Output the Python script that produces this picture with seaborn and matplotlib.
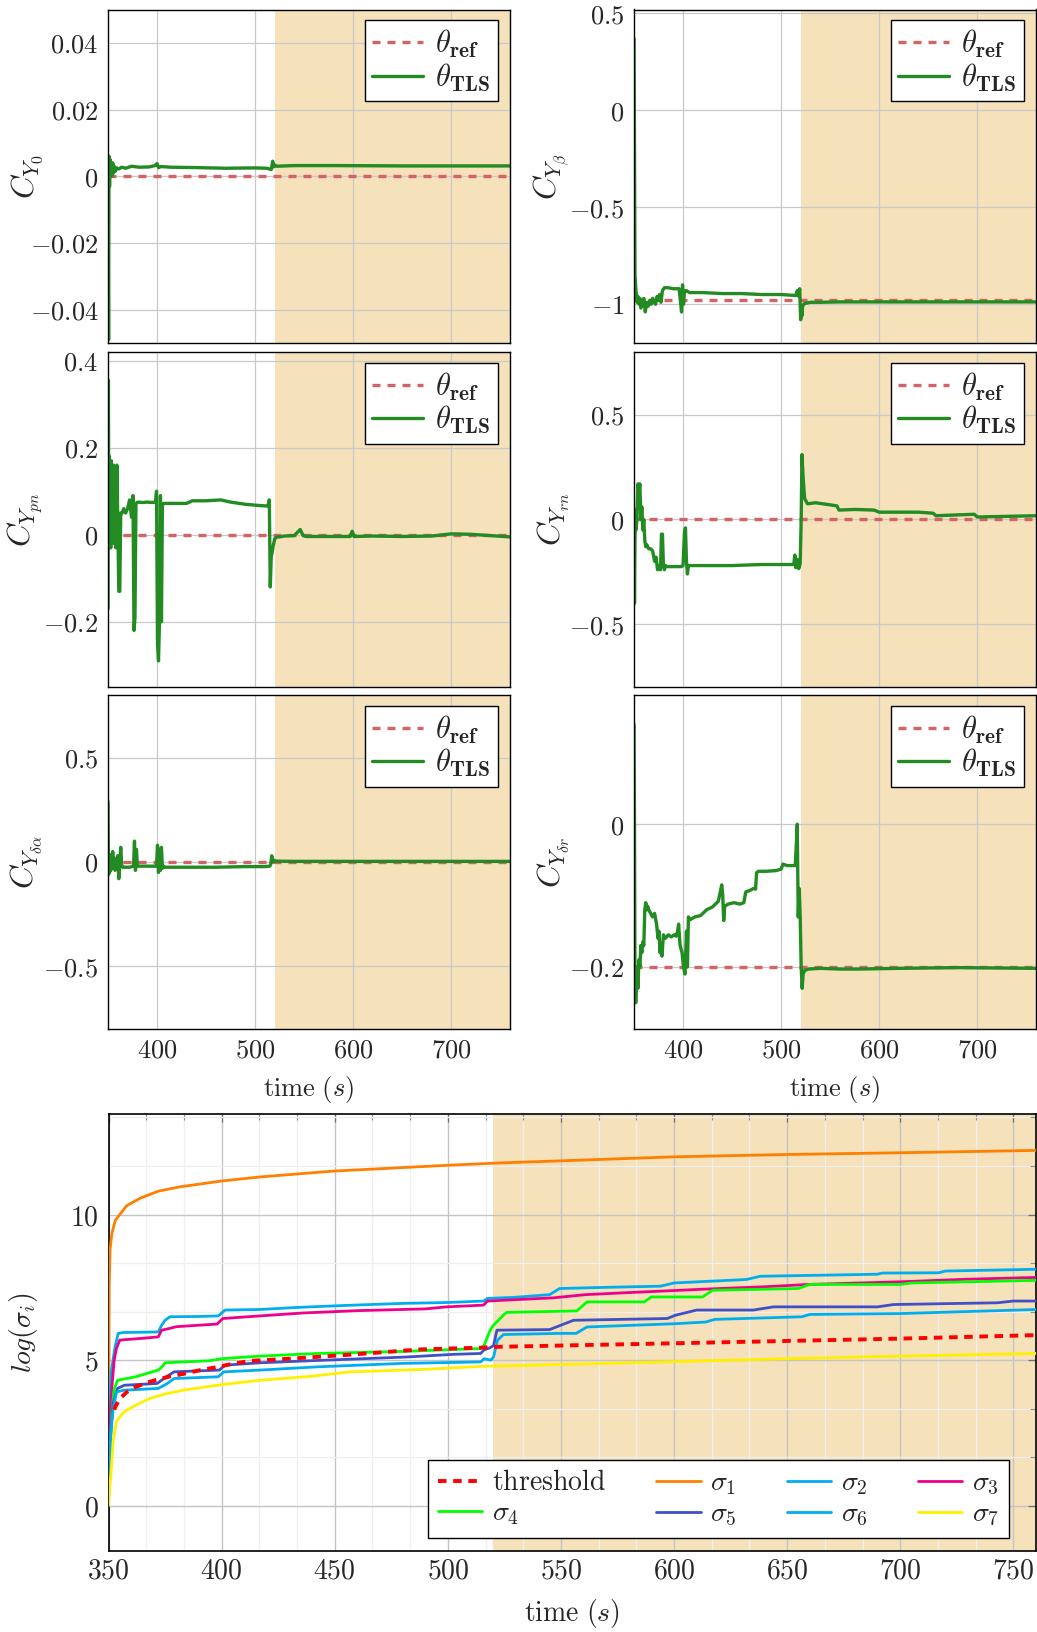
import matplotlib
matplotlib.use("Agg")
import matplotlib.pyplot as plt
import seaborn as sns
from matplotlib.ticker import FixedLocator, FixedFormatter, MultipleLocator

# ------------------------------------------------------------------
# Parameter estimates (theta_TLS) versus time, one series per coefficient
# ------------------------------------------------------------------
t_y0 = [350.0, 350.6, 351.0, 351.6, 352.2, 352.8, 353.4, 354.0, 354.8, 355.6,
        356.4, 357.5, 359.0, 361.0, 364.0, 368.0, 374.0, 382.0, 392.0, 398.0,
        400.0, 401.5, 404.0, 415.0, 440.0, 470.0, 500.0, 512.0, 516.5, 518.0,
        519.0, 520.0, 522.0, 540.0, 580.0, 650.0, 760.0]
v_y0 = [0.004, -0.049, 0.006, -0.003, 0.005, 0.001, 0.004, 0.0, 0.004, 0.001,
        0.003, 0.0015, 0.0025, 0.0022, 0.0027, 0.0024, 0.003, 0.0027, 0.0028, 0.0032,
        0.0038, 0.0026, 0.0029, 0.0027, 0.0026, 0.0024, 0.0025, 0.0024, 0.002, 0.0045,
        0.0028, 0.0034, 0.003, 0.0032, 0.0032, 0.0031, 0.0031]

t_beta = [350.0, 350.5, 351.0, 352.0, 353.0, 354.0, 355.0, 356.0, 357.0, 358.0,
          359.0, 360.0, 361.5, 363.0, 364.5, 366.0, 367.5, 369.0, 370.5, 372.0,
          373.5, 375.0, 376.0, 377.5, 379.0, 381.0, 385.0, 390.0, 396.0, 397.5,
          398.5, 399.5, 400.5, 401.5, 402.5, 403.5, 405.0, 406.5, 408.0, 420.0,
          440.0, 460.0, 480.0, 500.0, 515.0, 516.5, 518.0, 519.0, 520.0, 520.6,
          521.2, 522.0, 523.0, 525.0, 530.0, 540.0, 560.0, 600.0, 650.0, 700.0,
          760.0]
v_beta = [0.37, -0.20, -0.85, -0.93, -0.99, -0.96, -1.00, -0.97, -1.02, -0.98,
          -1.00, -0.97, -1.04, -0.99, -1.01, -0.98, -1.00, -0.97, -0.99, -1.00,
          -0.96, -0.98, -0.95, -0.99, -0.93, -0.915, -0.915, -0.92, -0.92, -0.99,
          -1.04, -0.90, -1.00, -0.93, -0.935, -0.93, -0.935, -0.94, -0.94, -0.94,
          -0.945, -0.945, -0.95, -0.95, -0.955, -0.93, -0.96, -0.92, -1.08, -1.02,
          -1.06, -1.01, -1.00, -0.995, -0.99, -0.99, -0.988, -0.988, -0.988, -0.988,
          -0.988]

t_pn = [350.0, 350.4, 350.8, 351.3, 351.8, 352.3, 352.8, 353.3, 353.8, 354.4,
        355.0, 355.6, 356.2, 357.0, 358.0, 359.0, 360.0, 361.0, 362.0, 363.0,
        364.5, 366.0, 368.0, 370.0, 372.0, 374.0, 375.5, 376.5, 377.5, 378.5,
        379.5, 381.0, 385.0, 390.0, 395.0, 398.5, 399.5, 400.5, 401.5, 402.5,
        403.5, 404.5, 405.5, 407.0, 415.0, 430.0, 436.0, 450.0, 465.0, 475.0,
        490.0, 505.0, 513.0, 514.5, 515.5, 516.5, 517.5, 518.5, 520.0, 522.0,
        525.0, 530.0, 540.0, 546.0, 549.0, 552.0, 570.0, 597.0, 599.0, 601.0,
        620.0, 650.0, 680.0, 700.0, 720.0, 760.0]
v_pn = [-0.17, 0.355, -0.03, 0.18, 0.0, 0.12, -0.03, 0.17, 0.05, 0.15,
        -0.02, 0.16, 0.04, 0.12, -0.03, 0.16, 0.03, -0.13, -0.13, 0.05,
        0.05, 0.06, 0.05, 0.06, 0.08, 0.04, 0.09, -0.22, -0.19, 0.07,
        0.074, 0.075, 0.074, 0.075, 0.074, 0.075, 0.10, -0.25, -0.29, -0.20,
        0.09, -0.20, 0.07, 0.072, 0.072, 0.072, 0.078, 0.078, 0.08, 0.075,
        0.07, 0.067, 0.066, 0.08, -0.12, -0.05, -0.04, -0.025, -0.01, -0.005,
        -0.005, -0.003, -0.002, 0.012, -0.002, -0.004, -0.004, -0.004, 0.008, -0.004,
        -0.003, -0.004, -0.003, 0.002, 0.001, -0.005]

t_rn = [350.0, 350.5, 351.0, 351.5, 352.0, 353.0, 354.0, 355.0, 356.0, 357.0,
        358.0, 359.0, 360.0, 361.0, 362.0, 363.0, 365.0, 367.0, 369.0, 371.0,
        372.5, 374.0, 375.5, 377.0, 378.0, 379.0, 380.0, 381.0, 382.0, 383.5,
        386.0, 392.0, 398.0, 400.0, 401.5, 402.5, 403.5, 404.5, 405.5, 407.0,
        420.0, 450.0, 480.0, 500.0, 513.0, 514.0, 515.0, 516.5, 518.0, 519.5,
        520.5, 521.3, 522.5, 524.0, 527.0, 535.0, 550.0, 557.0, 559.0, 575.0,
        595.0, 600.0, 640.0, 655.0, 658.0, 680.0, 697.0, 700.0, 730.0, 760.0]
v_rn = [0.05, -0.40, -0.10, 0.04, -0.05, 0.0, 0.17, 0.14, 0.17, 0.0,
        0.06, -0.05, 0.0, -0.10, -0.13, -0.12, -0.14, -0.14, -0.15, -0.20,
        -0.18, -0.24, -0.22, -0.24, -0.07, -0.07, -0.22, -0.24, -0.22, -0.225,
        -0.225, -0.225, -0.225, -0.22, -0.06, -0.04, -0.20, -0.26, -0.22, -0.22,
        -0.22, -0.22, -0.215, -0.215, -0.215, -0.17, -0.23, -0.19, -0.235, -0.21,
        0.0, 0.31, 0.20, 0.10, 0.075, 0.08, 0.07, 0.065, 0.045, 0.048,
        0.045, 0.035, 0.035, 0.03, 0.018, 0.022, 0.025, 0.012, 0.015, 0.018]

t_da = [350.0, 350.5, 351.0, 351.6, 352.2, 352.8, 353.4, 354.0, 354.8, 355.6,
        356.4, 357.2, 358.0, 359.0, 360.0, 361.0, 362.0, 363.0, 364.0, 365.0,
        366.0, 368.0, 372.0, 376.0, 377.0, 378.0, 379.0, 380.0, 385.0, 395.0,
        399.5, 400.5, 401.5, 402.5, 403.5, 404.5, 405.5, 406.5, 408.0, 430.0,
        460.0, 490.0, 510.0, 515.0, 516.0, 517.0, 518.0, 519.0, 520.0, 522.0,
        540.0, 600.0, 700.0, 760.0]
v_da = [0.29, -0.06, 0.04, -0.05, 0.02, -0.04, 0.03, -0.03, 0.05, -0.02,
        0.02, -0.04, 0.01, -0.02, 0.03, -0.08, 0.0, 0.07, -0.02, -0.025,
        -0.025, -0.025, -0.025, -0.02, 0.10, -0.04, 0.06, -0.02, -0.02, -0.02,
        -0.02, 0.08, -0.05, 0.06, -0.04, 0.07, -0.03, -0.02, -0.025, -0.025,
        -0.025, -0.022, -0.022, -0.02, -0.01, 0.03, 0.0, 0.01, 0.004, 0.004,
        0.003, 0.003, 0.003, 0.003]

t_dr = [350.0, 350.5, 351.0, 351.5, 352.0, 353.0, 354.0, 355.0, 356.0, 357.0,
        358.0, 359.0, 360.0, 361.0, 362.0, 363.0, 364.0, 365.0, 367.0, 369.0,
        371.0, 373.0, 374.5, 375.5, 376.5, 377.5, 378.5, 380.0, 382.0, 385.0,
        388.0, 391.0, 393.0, 394.5, 395.5, 397.0, 399.0, 400.5, 402.0, 403.5,
        404.5, 405.5, 407.0, 412.0, 418.0, 424.0, 430.0, 436.0, 439.5, 440.5,
        441.5, 442.5, 446.0, 452.0, 458.0, 462.0, 464.0, 468.0, 472.0, 474.0,
        475.0, 477.0, 485.0, 495.0, 500.0, 502.0, 506.0, 512.0, 514.5, 515.5,
        516.5, 517.5, 518.5, 519.5, 520.5, 521.5, 522.5, 524.0, 528.0, 540.0,
        560.0, 580.0, 620.0, 680.0, 760.0]
v_dr = [0.14, 0.0, -0.22, -0.25, -0.25, -0.20, -0.23, -0.19, -0.20, -0.17,
        -0.18, -0.165, -0.17, -0.12, -0.11, -0.12, -0.115, -0.12, -0.125, -0.13,
        -0.125, -0.14, -0.16, -0.15, -0.18, -0.17, -0.185, -0.155, -0.16, -0.155,
        -0.158, -0.155, -0.157, -0.15, -0.14, -0.17, -0.18, -0.20, -0.21, -0.15,
        -0.20, -0.13, -0.134, -0.13, -0.128, -0.12, -0.116, -0.108, -0.085, -0.10,
        -0.135, -0.115, -0.112, -0.11, -0.112, -0.11, -0.095, -0.093, -0.09, -0.091,
        -0.068, -0.066, -0.066, -0.065, -0.063, -0.056, -0.058, -0.058, -0.058, -0.03,
        0.0, -0.13, -0.09, -0.13, -0.20, -0.23, -0.21, -0.205, -0.203, -0.202,
        -0.203, -0.203, -0.202, -0.201, -0.202]

# Reference values theta_ref
ref_values = [0.0, -0.98, 0.0, 0.0, 0.0, -0.2]

# ------------------------------------------------------------------
# Singular values log(sigma_i) and detection threshold
# ------------------------------------------------------------------
t_thr = [352.5, 353.0, 355.0, 358.0, 362.0, 366.0, 370.5, 377.0, 383.8, 390.0,
         398.5, 405.0, 413.2, 430.0, 457.0, 488.0, 515.0, 523.0, 600.0, 650.0,
         700.0, 760.0]
v_thr = [3.3, 3.4, 3.68, 3.9, 4.08, 4.2, 4.31, 4.44, 4.54, 4.65,
         4.77, 4.88, 4.98, 5.05, 5.19, 5.37, 5.43, 5.46, 5.58, 5.66,
         5.74, 5.86]

t_s1 = [350.0, 350.3, 350.7, 351.5, 353.0, 355.0, 358.0, 364.0, 372.0, 381.6,
        400.0, 417.0, 449.5, 500.0, 523.0, 560.0, 600.0, 650.0, 700.0, 760.0]
v_s1 = [1.0, 7.5, 8.8, 9.35, 9.8, 10.0, 10.3, 10.56, 10.8, 10.95,
        11.15, 11.29, 11.49, 11.69, 11.77, 11.87, 11.98, 12.06, 12.12, 12.2]

t_s2 = [350.0, 350.5, 351.2, 352.0, 352.9, 354.3, 356.6, 365.0, 372.0, 373.5,
        375.0, 377.2, 390.0, 398.6, 401.5, 417.0, 433.3, 455.0, 480.5, 500.0,
        515.8, 517.5, 530.0, 545.0, 549.4, 570.0, 594.0, 600.0, 632.0, 638.0,
        660.0, 689.8, 692.0, 717.0, 720.0, 760.0]
v_s2 = [2.0, 3.5, 4.6, 5.0, 5.46, 5.92, 5.95, 5.96, 5.97, 6.2,
        6.37, 6.49, 6.5, 6.52, 6.72, 6.74, 6.81, 6.88, 6.95, 6.98,
        7.03, 7.12, 7.16, 7.25, 7.46, 7.5, 7.54, 7.65, 7.77, 7.88,
        7.91, 7.95, 7.99, 8.0, 8.06, 8.12]

t_s3 = [350.0, 350.6, 351.5, 352.5, 353.5, 355.0, 365.0, 372.0, 373.5, 377.0,
        380.0, 398.0, 400.5, 417.0, 436.0, 460.0, 490.0, 499.5, 515.8, 517.5,
        530.5, 546.7, 561.0, 580.0, 614.0, 640.0, 659.7, 700.0, 730.0, 760.0]
v_s3 = [1.5, 3.0, 4.08, 5.0, 5.4, 5.69, 5.75, 5.8, 6.03, 6.09,
        6.15, 6.24, 6.43, 6.52, 6.62, 6.7, 6.76, 6.83, 6.89, 7.03,
        7.08, 7.14, 7.25, 7.32, 7.44, 7.52, 7.6, 7.69, 7.78, 7.84]

t_s4 = [350.0, 350.8, 351.5, 352.5, 354.0, 362.0, 372.0, 374.0, 375.0, 394.5,
        400.0, 417.0, 442.0, 480.0, 514.5, 516.0, 518.7, 520.2, 524.6, 526.0,
        557.0, 561.5, 586.8, 590.0, 612.6, 617.0, 655.0, 660.0, 700.0, 705.0,
        760.0]
v_s4 = [0.5, 2.0, 3.28, 4.0, 4.31, 4.43, 4.66, 4.8, 4.91, 4.98,
        5.05, 5.14, 5.23, 5.3, 5.4, 5.5, 6.03, 6.2, 6.55, 6.64,
        6.69, 7.0, 7.0, 7.17, 7.17, 7.4, 7.46, 7.6, 7.6, 7.65,
        7.74]

t_s5 = [350.0, 351.0, 352.0, 354.0, 357.0, 371.5, 375.0, 379.0, 399.0, 401.5,
        417.0, 439.0, 482.0, 502.5, 514.5, 516.0, 518.7, 520.2, 521.7, 545.0,
        555.6, 597.0, 600.5, 610.0, 635.0, 644.0, 690.0, 697.0, 743.0, 750.0,
        760.0]
v_s5 = [0.5, 2.5, 3.52, 4.03, 4.14, 4.2, 4.4, 4.6, 4.66, 4.83,
        4.91, 4.98, 5.11, 5.2, 5.23, 5.35, 5.43, 5.5, 6.03, 6.05,
        6.37, 6.43, 6.54, 6.72, 6.72, 6.83, 6.83, 6.91, 6.97, 7.03,
        7.03]

t_s6 = [350.0, 351.0, 352.0, 353.5, 357.0, 372.0, 376.0, 379.0, 398.5, 401.0,
        417.0, 442.0, 480.0, 514.5, 516.0, 519.0, 520.2, 522.0, 524.6, 549.4,
        556.7, 561.5, 600.0, 614.0, 618.0, 656.5, 660.0, 700.0, 760.0]
v_s6 = [0.3, 2.5, 3.28, 3.91, 3.97, 4.03, 4.2, 4.37, 4.43, 4.6,
        4.66, 4.77, 4.89, 4.94, 5.05, 5.0, 5.11, 5.69, 5.88, 5.92,
        5.92, 6.14, 6.25, 6.31, 6.4, 6.49, 6.57, 6.6, 6.74]

t_s7 = [350.0, 350.5, 351.2, 352.0, 353.5, 356.0, 358.0, 362.0, 368.0, 375.0,
        383.0, 400.0, 417.0, 440.0, 457.0, 488.0, 516.0, 523.0, 600.0, 650.0,
        700.0, 760.0]
v_s7 = [0.0, 0.6, 1.2, 2.2, 2.9, 3.15, 3.28, 3.45, 3.68, 3.84,
        3.97, 4.16, 4.31, 4.45, 4.6, 4.68, 4.79, 4.8, 4.95, 5.05,
        5.14, 5.23]

# Tick values and their labels
xt_top = [400, 500, 600, 700]
xt_top_lbl = ["$400$", "$500$", "$600$", "$700$"]
yt_y0 = [-0.04, -0.02, 0.0, 0.02, 0.04]
yt_y0_lbl = ["$-0.04$", "$-0.02$", "$0$", "$0.02$", "$0.04$"]
yt_beta = [-1.0, -0.5, 0.0, 0.5]
yt_beta_lbl = ["$-1$", "$-0.5$", "$0$", "$0.5$"]
yt_pn = [-0.2, 0.0, 0.2, 0.4]
yt_pn_lbl = ["$-0.2$", "$0$", "$0.2$", "$0.4$"]
yt_half = [-0.5, 0.0, 0.5]
yt_half_lbl = ["$-0.5$", "$0$", "$0.5$"]
yt_dr = [-0.2, 0.0]
yt_dr_lbl = ["$-0.2$", "$0$"]
xt_bot = [350, 400, 450, 500, 550, 600, 650, 700, 750]
xt_bot_lbl = ["$%d$" % v for v in xt_bot]
yt_bot = [0, 5, 10]
yt_bot_lbl = ["$0$", "$5$", "$10$"]

# ------------------------------------------------------------------
# Styling
# ------------------------------------------------------------------
sns.set_style("whitegrid")
plt.rcParams.update({
    "mathtext.fontset": "cm",
    "font.family": ["DejaVu Serif"],
    "axes.edgecolor": "black",
    "axes.linewidth": 1.0,
    "grid.color": "#c9c9c9",
    "grid.linewidth": 0.9,
    "axes.axisbelow": True,
})

SHADE = "#f5e1ba"
TLS_C = "#228b22"
REF_C = "#d46464"
FS = 19
FS_LABEL = 23
FS_LEG = 22
T0, T1, T_SWITCH = 350, 760, 520

FIG_W, FIG_H = 1037, 1632
fig = plt.figure(figsize=(FIG_W / 100, FIG_H / 100), dpi=100)


def px_axes(left, top, right, bottom):
    return fig.add_axes([left / FIG_W, 1 - bottom / FIG_H,
                         (right - left) / FIG_W, (bottom - top) / FIG_H])


def param_panel(ax, t, v, ref, ylim, yt, ytl, ylabel, left_col, show_x):
    ax.axvspan(T_SWITCH, T1, color=SHADE, lw=0, zorder=0.2)
    sns.lineplot(x=[T0, T1], y=[ref, ref], ax=ax, color=REF_C, lw=2.4,
                 estimator=None, sort=False, label=r"$\theta_{\mathbf{ref}}$")
    ref_line = ax.lines[-1]
    ref_line.set_dashes([2.4, 2.1])
    sns.lineplot(x=t, y=v, ax=ax, color=TLS_C, lw=2.4,
                 estimator=None, sort=False, label=r"$\theta_{\mathbf{TLS}}$")
    tls_line = ax.lines[-1]
    ax.set_xlim(T0, T1)
    ax.set_ylim(*ylim)
    ax.xaxis.set_major_locator(FixedLocator(xt_top))
    ax.xaxis.set_major_formatter(FixedFormatter(xt_top_lbl))
    ax.yaxis.set_major_locator(FixedLocator(yt))
    ax.yaxis.set_major_formatter(FixedFormatter(ytl))
    ax.tick_params(axis="both", direction="in", length=5, width=0.8,
                   color="#808080", labelsize=FS, pad=7)
    ax.tick_params(axis="x", labelbottom=show_x, pad=6)
    ax.set_ylabel(ylabel, fontsize=FS_LABEL)
    ax.yaxis.set_label_coords(-0.157 if left_col else -0.155, 0.5)
    if show_x:
        ax.set_xlabel(r"$\mathrm{time}\ (s)$", fontsize=FS)
        ax.xaxis.set_label_coords(0.5, -0.135)
    else:
        ax.set_xlabel("")
    for sp in ax.spines.values():
        sp.set_color("black")
        sp.set_linewidth(1.0)
    leg = ax.legend(handles=[ref_line, tls_line],
                    labels=[r"$\theta_{\mathbf{ref}}$", r"$\theta_{\mathbf{TLS}}$"],
                    loc="upper right", bbox_to_anchor=(0.969, 0.968),
                    borderaxespad=0, fontsize=FS_LEG, frameon=True, fancybox=False,
                    edgecolor="black", framealpha=1, handlelength=1.65,
                    handletextpad=0.4, labelspacing=0.05, borderpad=0.25)
    leg.get_frame().set_linewidth(1.0)


rows_px = [(9.5, 343), (352, 687), (695, 1029)]
cols_px = [(108, 510), (634, 1036)]

panels = [
    (t_y0, v_y0, ref_values[0], (-0.05, 0.05), yt_y0, yt_y0_lbl, r"$C_{Y_0}$"),
    (t_beta, v_beta, ref_values[1], (-1.2, 0.52), yt_beta, yt_beta_lbl, r"$C_{Y_\beta}$"),
    (t_pn, v_pn, ref_values[2], (-0.35, 0.42), yt_pn, yt_pn_lbl, r"$C_{Y_{pn}}$"),
    (t_rn, v_rn, ref_values[3], (-0.8, 0.8), yt_half, yt_half_lbl, r"$C_{Y_{rn}}$"),
    (t_da, v_da, ref_values[4], (-0.8, 0.8), yt_half, yt_half_lbl, r"$C_{Y_{\delta\alpha}}$"),
    (t_dr, v_dr, ref_values[5], (-0.287, 0.181), yt_dr, yt_dr_lbl, r"$C_{Y_{\delta r}}$"),
]

for i, (t, v, ref, ylim, yt, ytl, ylab) in enumerate(panels):
    r, c = divmod(i, 2)
    top, bot = rows_px[r]
    lft, rgt = cols_px[c]
    ax = px_axes(lft, top, rgt, bot)
    param_panel(ax, t, v, ref, ylim, yt, ytl, ylab, c == 0, r == 2)

# ------------------------------------------------------------------
# Singular value panel
# ------------------------------------------------------------------
axb = px_axes(108.5, 1114, 1036, 1551)
axb.axvspan(T_SWITCH, T1, color=SHADE, lw=0, zorder=0.2)

sigma_series = [
    (t_thr, v_thr, "#ff0000", r"$\mathrm{threshold}$"),
    (t_s1, v_s1, "#ff8000", r"$\sigma_1$"),
    (t_s2, v_s2, "#00aeef", r"$\sigma_2$"),
    (t_s3, v_s3, "#ec008c", r"$\sigma_3$"),
    (t_s4, v_s4, "#00ff00", r"$\sigma_4$"),
    (t_s5, v_s5, "#4050c6", r"$\sigma_5$"),
    (t_s6, v_s6, "#00aeef", r"$\sigma_6$"),
    (t_s7, v_s7, "#fff000", r"$\sigma_7$"),
]
handles = {}
for k, (t, v, col, lab) in enumerate(sigma_series):
    is_thr = k == 0
    sns.lineplot(x=t, y=v, ax=axb, color=col, lw=2.8 if is_thr else 2.0,
                 estimator=None, sort=False, label=lab,
                 zorder=4 if is_thr else 3)
    ln = axb.lines[-1]
    if is_thr:
        ln.set_dashes([2.2, 1.7])
    handles[lab] = ln

axb.set_xlim(T0, T1)
axb.set_ylim(-1.55, 13.45)
axb.xaxis.set_major_locator(FixedLocator(xt_bot))
axb.xaxis.set_major_formatter(FixedFormatter(xt_bot_lbl))
axb.xaxis.set_minor_locator(MultipleLocator(50 / 3))
axb.yaxis.set_major_locator(FixedLocator(yt_bot))
axb.yaxis.set_major_formatter(FixedFormatter(yt_bot_lbl))
axb.yaxis.set_minor_locator(MultipleLocator(5 / 3))
axb.grid(which="major", color="#c4c4c4", lw=1.0)
axb.grid(which="minor", color="#efefef", lw=0.9)
axb.tick_params(axis="both", which="major", direction="in", length=6,
                width=0.9, color="#707070", labelsize=FS + 1, top=True, right=True)
axb.tick_params(axis="both", which="minor", direction="in", length=4,
                width=0.8, color="#909090", top=True, right=True)
axb.tick_params(axis="x", pad=5)
axb.tick_params(axis="y", pad=7)
axb.set_xlabel(r"$\mathrm{time}\ (s)$", fontsize=FS + 1)
axb.xaxis.set_label_coords(0.5, -0.106)
axb.set_ylabel(r"$log(\sigma_i)$", fontsize=FS + 1)
axb.yaxis.set_label_coords(-0.074, 0.5)
for sp in axb.spines.values():
    sp.set_color("black")
    sp.set_linewidth(1.2)

# 4 columns filled column-wise: keep row order threshold, s1, s2, s3 / s4..s7
order = [r"$\mathrm{threshold}$", r"$\sigma_4$", r"$\sigma_1$", r"$\sigma_5$",
         r"$\sigma_2$", r"$\sigma_6$", r"$\sigma_3$", r"$\sigma_7$"]
legb = axb.legend(handles=[handles[o] for o in order], labels=order, ncol=4,
                  loc="lower right", bbox_to_anchor=(0.971, 0.03),
                  borderaxespad=0, fontsize=FS + 1, frameon=True, fancybox=False,
                  edgecolor="black", framealpha=1, handlelength=1.6,
                  handletextpad=0.35, labelspacing=0.12, columnspacing=1.8,
                  borderpad=0.35)
legb.get_frame().set_linewidth(1.0)

fig.savefig("out.png", dpi=100)
